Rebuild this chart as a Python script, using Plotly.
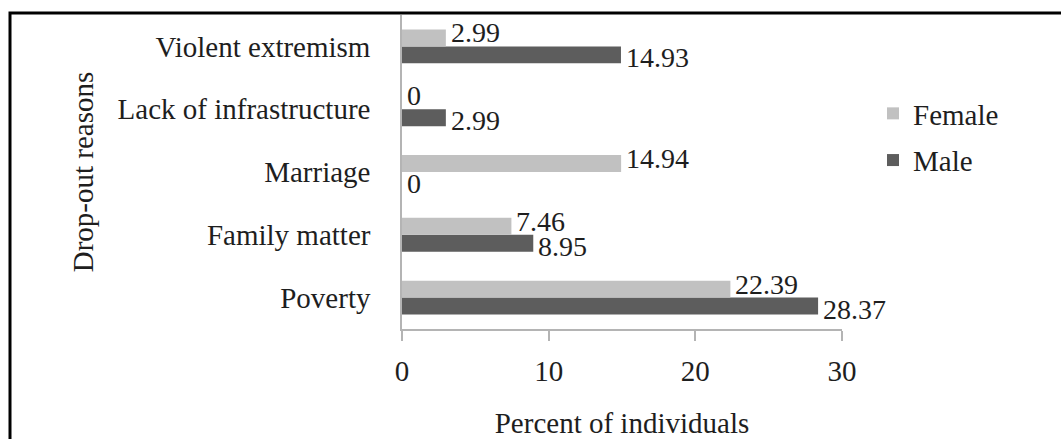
import plotly.graph_objects as go

# Drop-out reasons, listed bottom-to-top on the category axis
reasons = ["Poverty", "Family matter", "Marriage", "Lack of infrastructure", "Violent extremism"]
female_pct = [22.39, 7.46, 14.94, 0, 2.99]
male_pct = [28.37, 8.95, 0, 2.99, 14.93]
x_ticks = [0, 10, 20, 30]

FONT = "Liberation Serif, Times New Roman, serif"
TEXT = "#1e1e1e"
AXIS = "#b4b4b4"
FS = 29      # axis / legend text size
FS_LBL = 28  # value labels
BARGAP = 0.46

W, H = 1061, 439
L, R, T, B = 402, 219, 15, 110  # plot area margins in px
PW, PH = W - L - R, H - T - B


def px_x(p):
    return (p - L) / PW


def px_y(p):
    return (H - B - p) / PH


fig = go.Figure()
# Male first so it sits below Female inside each group
fig.add_trace(go.Bar(
    y=reasons, x=male_pct, name="Male", orientation="h",
    marker=dict(color="#5d5d5d", line=dict(width=0)),
    legendrank=2, legendgroup="m",
))
fig.add_trace(go.Bar(
    y=reasons, x=female_pct, name="Female", orientation="h",
    marker=dict(color="#c1c1c1", line=dict(width=0)),
    legendrank=1, legendgroup="f",
))

# Value labels at the end of each bar; half a bar width off the category centre
half = (1 - BARGAP) / 4
annotations = []
for i, (f, m) in enumerate(zip(female_pct, male_pct)):
    annotations.append(dict(
        x=f, y=i + half, xref="x", yref="y", text=f"{f:g}",
        showarrow=False, xanchor="left", yanchor="middle", xshift=3, yshift=5,
        font=dict(family=FONT, size=FS_LBL, color=TEXT),
    ))
    annotations.append(dict(
        x=m, y=i - half, xref="x", yref="y", text=f"{m:g}",
        showarrow=False, xanchor="left", yanchor="middle", xshift=3, yshift=-3,
        font=dict(family=FONT, size=FS_LBL, color=TEXT),
    ))

fig.update_layout(
    width=W, height=H,
    margin=dict(l=L, r=R, t=T, b=B, autoexpand=False),
    paper_bgcolor="white", plot_bgcolor="white",
    barmode="group", bargap=BARGAP, bargroupgap=0,
    font=dict(family=FONT, size=FS, color=TEXT),
    showlegend=True,
    legend=dict(
        x=px_x(873), xanchor="left", y=px_y(88), yanchor="top",
        font=dict(family=FONT, size=FS, color=TEXT),
        bgcolor="rgba(0,0,0,0)", tracegroupgap=6,
        traceorder="grouped",
    ),
    xaxis=dict(
        range=[0, 30], tickvals=x_ticks, ticktext=[str(v) for v in x_ticks],
        showgrid=False, zeroline=False,
        showline=True, linecolor=AXIS, linewidth=1.5,
        ticks="outside", ticklen=10, tickcolor=AXIS, tickwidth=1.5,
        ticklabelstandoff=5,
        tickfont=dict(family=FONT, size=FS, color=TEXT),
        title=dict(text="Percent of individuals", standoff=34,
                   font=dict(family=FONT, size=FS, color=TEXT)),
        fixedrange=True,
    ),
    yaxis=dict(
        type="category", categoryorder="array", categoryarray=reasons,
        showgrid=False, zeroline=False,
        showline=True, linecolor=AXIS, linewidth=1.5,
        ticks="", ticklabelstandoff=24,
        tickfont=dict(family=FONT, size=FS, color=TEXT),
        title=dict(text="Drop-out reasons", standoff=15,
                   font=dict(family=FONT, size=FS, color=TEXT)),
        fixedrange=True,
    ),
    annotations=annotations,
    shapes=[dict(
        type="rect", xref="paper", yref="paper",
        x0=px_x(10), x1=px_x(1080), y0=px_y(460), y1=px_y(13),
        line=dict(color="black", width=3), fillcolor="rgba(0,0,0,0)",
        layer="below",
    )],
)

fig.write_html("out.html")
